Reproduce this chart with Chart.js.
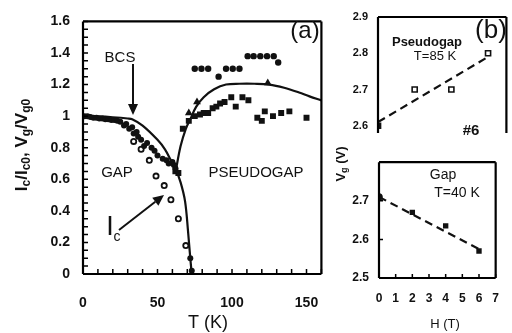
<!DOCTYPE html>
<html>
<head>
<meta charset="utf-8">
<script src="https://cdn.jsdelivr.net/npm/chart.js@4"></script>
<style>
  body { margin: 0; background: #fff; }
  #wrap { position: relative; width: 512px; height: 333px; overflow: hidden; }
  canvas { position: absolute; }
</style>
</head>
<body>
<div id="wrap">
  <canvas id="mainChart" width="340" height="333" style="left:0;top:0"></canvas>
  <canvas id="topChart" width="177" height="150" style="left:335px;top:0"></canvas>
  <canvas id="botChart" width="177" height="188" style="left:335px;top:145px"></canvas>
</div>
<script>
// ---- data ----
// panel (a): T (K) vs normalised Ic, Vg
const bcsT = [0, 10, 20, 30, 33, 40, 50, 55, 59, 62, 65.5, 68.5, 70.5, 72, 73];
const bcsV = [1.0, 0.998, 0.993, 0.985, 0.98, 0.94, 0.85, 0.79, 0.72, 0.67, 0.58, 0.46, 0.27, 0.1, 0];
const pgCurveT = [62, 65.5, 69, 72, 76, 81, 88, 96, 105, 115, 125, 135, 145, 152, 160];
const pgCurveV = [0.64, 0.81, 0.92, 0.98, 1.06, 1.12, 1.17, 1.2, 1.205, 1.205, 1.2, 1.18, 1.15, 1.125, 1.1];
const gapDotsT = [1, 3, 5, 7, 9, 11, 13, 15, 17, 19, 21, 23, 25, 27.5, 29, 31, 33, 34, 36, 37, 39, 41, 43, 46, 48, 50, 53.5, 56, 57.5, 60, 61, 62, 72, 73];
const gapDotsV = [1.0, 1.0, 0.995, 0.99, 0.99, 0.985, 0.985, 0.98, 0.98, 0.975, 0.975, 0.97, 0.965, 0.94, 0.95, 0.92, 0.93, 0.89, 0.9, 0.87, 0.85, 0.81, 0.83, 0.8, 0.78, 0.75, 0.73, 0.72, 0.7, 0.71, 0.69, 0.67, 0.1, 0.02];
const icT = [34, 39, 44.5, 49, 54.5, 59, 64, 69];
const icV = [0.84, 0.79, 0.72, 0.62, 0.56, 0.47, 0.35, 0.18];
const sqT = [62, 64, 67, 71, 75, 78.5, 81, 84, 87, 89.5, 92, 95, 99.5, 102.5, 107, 111, 117, 120, 122, 127.5, 133, 138.5, 150];
const sqV = [0.65, 0.64, 0.92, 0.97, 1.0, 1.01, 1.02, 1.02, 1.05, 1.06, 1.08, 1.09, 1.12, 1.06, 1.12, 1.1, 0.99, 0.97, 1.03, 1.0, 1.02, 1.03, 0.99];
const hiDotsT = [75, 79.5, 84, 91, 96, 100.5, 105, 110.5, 114.5, 119, 123.5, 128, 131];
const hiDotsV = [1.3, 1.3, 1.3, 1.25, 1.3, 1.3, 1.3, 1.38, 1.38, 1.38, 1.38, 1.38, 1.34];
const triT = [71, 76.5, 124];
const triV = [1.02, 1.09, 1.21];

// panel (b): H (T) vs Vg (V)
const fieldH = [0, 2, 4, 6];
const vgPseudo = [2.6, 2.7, 2.7, 2.8];
const vgGap = [2.71, 2.67, 2.635, 2.57];
const fitH = [0, 6];
const fitPseudo = [2.61, 2.79];
const fitGap = [2.71, 2.575];

// tick labels
const tTicks = [0, 50, 100, 150];
const ratioTicks = [0, 0.2, 0.4, 0.6, 0.8, 1, 1.2, 1.4, 1.6];
const hTicks = [0, 1, 2, 3, 4, 5, 6, 7];
const vgTopTicks = [2.6, 2.7, 2.8, 2.9];
const vgBotTicks = [2.5, 2.6, 2.7];

const zip = (xs, ys) => xs.map((x, i) => ({ x: x, y: ys[i] }));
const ink = '#111';
const FONT = "'Liberation Sans', Arial, sans-serif";

Chart.defaults.font.family = FONT;
Chart.defaults.color = ink;
Chart.defaults.animation = false;

// text with subscripts: parts = [[text, isSub], ...]
function subText(ctx, parts, x, y, size, rot) {
  ctx.save();
  ctx.translate(x, y);
  if (rot) ctx.rotate(rot);
  ctx.fillStyle = ink;
  ctx.textBaseline = 'middle';
  let total = 0;
  parts.forEach(p => {
    ctx.font = 'bold ' + (p[1] ? Math.round(size * 0.68) : size) + 'px ' + FONT;
    total += ctx.measureText(p[0]).width;
  });
  let cx = -total / 2;
  parts.forEach(p => {
    const s = p[1] ? Math.round(size * 0.68) : size;
    ctx.font = 'bold ' + s + 'px ' + FONT;
    ctx.textAlign = 'left';
    ctx.fillText(p[0], cx, p[1] ? size * 0.3 : 0);
    cx += ctx.measureText(p[0]).width;
  });
  ctx.restore();
}

function label(ctx, txt, x, y, font) {
  ctx.save();
  ctx.font = font;
  ctx.fillStyle = ink;
  ctx.textAlign = 'center';
  ctx.textBaseline = 'middle';
  ctx.fillText(txt, x, y);
  ctx.restore();
}

function arrow(ctx, x1, y1, x2, y2) {
  const a = Math.atan2(y2 - y1, x2 - x1);
  const L = 11, W = 5;
  ctx.save();
  ctx.strokeStyle = ink; ctx.fillStyle = ink; ctx.lineWidth = 2;
  ctx.beginPath();
  ctx.moveTo(x1, y1);
  ctx.lineTo(x2 - L * Math.cos(a), y2 - L * Math.sin(a));
  ctx.stroke();
  ctx.beginPath();
  ctx.moveTo(x2, y2);
  ctx.lineTo(x2 - L * Math.cos(a) + W * Math.sin(a), y2 - L * Math.sin(a) - W * Math.cos(a));
  ctx.lineTo(x2 - L * Math.cos(a) - W * Math.sin(a), y2 - L * Math.sin(a) + W * Math.cos(a));
  ctx.closePath();
  ctx.fill();
  ctx.restore();
}

// frame + inside ticks
function frame(sides, xStep, yStep, xLen, yLen) {
  return {
    id: 'frame',
    afterDraw(chart) {
      const ctx = chart.ctx;
      const a = chart.chartArea;
      const xs = chart.scales.x, ys = chart.scales.y;
      ctx.save();
      ctx.strokeStyle = '#000';
      ctx.lineWidth = 1.5;
      ctx.beginPath();
      if (xStep) {
        const n = Math.round((xs.max - xs.min) / xStep);
        for (let i = 0; i <= n; i++) {
          const px = xs.getPixelForValue(xs.min + i * xStep);
          ctx.moveTo(px, a.bottom);
          ctx.lineTo(px, a.bottom - xLen);
        }
      }
      if (yStep) {
        const i0 = Math.ceil(ys.min / yStep - 1e-6);
        const i1 = Math.floor(ys.max / yStep + 1e-6);
        for (let i = i0; i <= i1; i++) {
          const py = ys.getPixelForValue(i * yStep);
          ctx.moveTo(a.left, py);
          ctx.lineTo(a.left + yLen, py);
        }
      }
      ctx.stroke();
      ctx.lineWidth = 2.2;
      ctx.beginPath();
      if (sides.includes('l')) { ctx.moveTo(a.left, a.bottom); ctx.lineTo(a.left, a.top); }
      if (sides.includes('t')) { ctx.moveTo(a.left, a.top); ctx.lineTo(a.right, a.top); }
      if (sides.includes('r')) { ctx.moveTo(a.right, a.top); ctx.lineTo(a.right, a.bottom); }
      if (sides.includes('b')) { ctx.moveTo(a.left, a.bottom); ctx.lineTo(a.right, a.bottom); }
      ctx.stroke();
      ctx.restore();
    }
  };
}

const fixTicks = arr => scale => { scale.ticks = arr.map(v => ({ value: v })); };

// ---- panel (a) ----
new Chart(document.getElementById('mainChart'), {
  type: 'scatter',
  data: {
    datasets: [
      { data: zip(bcsT, bcsV), showLine: true, borderColor: ink, borderWidth: 2.2, pointRadius: 0, tension: 0.35 },
      { data: zip(pgCurveT, pgCurveV), showLine: true, borderColor: ink, borderWidth: 2.2, pointRadius: 0, tension: 0.35 },
      { data: zip(gapDotsT, gapDotsV), pointStyle: 'circle', pointRadius: 3, backgroundColor: ink, borderColor: ink, borderWidth: 0 },
      { data: zip(icT, icV), pointStyle: 'circle', pointRadius: 2.6, backgroundColor: '#fff', borderColor: ink, borderWidth: 1.8 },
      { data: zip(sqT, sqV), pointStyle: 'rect', pointRadius: 4.2, backgroundColor: ink, borderColor: ink, borderWidth: 0 },
      { data: zip(hiDotsT, hiDotsV), pointStyle: 'circle', pointRadius: 3.2, backgroundColor: ink, borderColor: ink, borderWidth: 0 },
      { data: zip(triT, triV), pointStyle: 'triangle', pointRadius: 4.5, backgroundColor: ink, borderColor: ink, borderWidth: 0 }
    ]
  },
  options: {
    responsive: false,
    layout: { padding: { left: 0, top: 15, right: 13, bottom: 0 } },
    plugins: { legend: { display: false }, tooltip: { enabled: false } },
    scales: {
      x: {
        type: 'linear', min: 0, max: 160,
        afterBuildTicks: fixTicks(tTicks),
        afterFit: s => { s.height = 59; },
        grid: { display: false, drawTicks: false },
        border: { display: false },
        ticks: { padding: 21, font: { size: 14, weight: 'bold' }, color: ink }
      },
      y: {
        min: 0, max: 1.6,
        afterBuildTicks: fixTicks(ratioTicks),
        afterFit: s => { s.width = 83; },
        grid: { display: false, drawTicks: false },
        border: { display: false },
        ticks: { padding: 13, font: { size: 14, weight: 'bold' }, color: ink, callback: v => String(v) }
      }
    }
  },
  plugins: [frame('ltrb', 10, 0.05, 5, 5), {
    id: 'notes',
    afterDraw(chart) {
      const ctx = chart.ctx;
      subText(ctx, [['I', 0], ['c', 1], ['/I', 0], ['c0', 1], [', V', 0], ['g', 1], ['/V', 0], ['g0', 1]], 22, 145, 17, -Math.PI / 2);
      label(ctx, 'T (K)', 208, 323, '18px ' + FONT);
      label(ctx, 'BCS', 120, 58, '15px ' + FONT);
      arrow(ctx, 133, 64, 133, 115);
      label(ctx, 'GAP', 117, 173, '15px ' + FONT);
      label(ctx, 'PSEUDOGAP', 256, 173, '15px ' + FONT);
      label(ctx, '(a)', 305, 31, '24px ' + FONT);
      label(ctx, 'I', 110, 228, '27px ' + FONT);
      label(ctx, 'c', 117, 237, '14px ' + FONT);
      arrow(ctx, 119, 230, 164, 195);
    }
  }]
});

// ---- panel (b), upper: pseudogap ----
new Chart(document.getElementById('topChart'), {
  type: 'scatter',
  data: {
    datasets: [
      { data: zip(fitH, fitPseudo), showLine: true, borderColor: ink, borderWidth: 2.2, borderDash: [8, 5], pointRadius: 0 },
      { data: zip(fieldH, vgPseudo), pointStyle: 'rect', pointRadius: 3.6,
        backgroundColor: [ink, '#fff', '#fff', '#fff'], borderColor: ink, borderWidth: 1.6 }
    ]
  },
  options: {
    responsive: false,
    layout: { padding: { left: 0, top: 17, right: 5, bottom: 17 } },
    plugins: { legend: { display: false }, tooltip: { enabled: false } },
    scales: {
      x: { type: 'linear', min: 0, max: 7, display: false },
      y: {
        min: 2.58, max: 2.9,
        afterBuildTicks: fixTicks(vgTopTicks),
        afterFit: s => { s.width = 43; },
        grid: { display: false, drawTicks: false },
        border: { display: false },
        ticks: { padding: 10, font: { size: 11, weight: 'bold' }, color: ink, callback: v => v.toFixed(1) }
      }
    }
  },
  plugins: [frame('ltr', 0, 0, 0, 0), {
    id: 'notesTop',
    afterDraw(chart) {
      const ctx = chart.ctx;
      label(ctx, 'Pseudogap', 92, 42, 'bold 13px ' + FONT);
      label(ctx, 'T=85 K', 100, 56, '13px ' + FONT);
      label(ctx, '(b)', 156, 31, '26px ' + FONT);
      label(ctx, '#6', 136, 131, 'bold 15px ' + FONT);
    }
  }]
});

// ---- panel (b), lower: gap ----
new Chart(document.getElementById('botChart'), {
  type: 'scatter',
  data: {
    datasets: [
      { data: zip(fitH, fitGap), showLine: true, borderColor: ink, borderWidth: 2.2, borderDash: [8, 5], pointRadius: 0 },
      { data: zip(fieldH, vgGap), pointStyle: ['circle', 'rect', 'rect', 'rect'], pointRadius: 3.8,
        backgroundColor: ink, borderColor: ink, borderWidth: 0 }
    ]
  },
  options: {
    responsive: false,
    layout: { padding: { left: 0, top: 9, right: 5, bottom: 0 } },
    plugins: { legend: { display: false }, tooltip: { enabled: false } },
    scales: {
      x: {
        type: 'linear', min: 0, max: 7,
        afterBuildTicks: fixTicks(hTicks),
        afterFit: s => { s.height = 55; },
        grid: { display: false, drawTicks: false },
        border: { display: false },
        ticks: { padding: 13, font: { size: 12, weight: 'bold' }, color: ink }
      },
      y: {
        min: 2.5, max: 2.8,
        afterBuildTicks: fixTicks(vgBotTicks),
        afterFit: s => { s.width = 44; },
        grid: { display: false, drawTicks: false },
        border: { display: false },
        ticks: { padding: 10, font: { size: 12, weight: 'bold' }, color: ink, callback: v => v.toFixed(1) }
      }
    }
  },
  plugins: [frame('ltrb', 1, 0.1, 4, 4), {
    id: 'notesBot',
    afterDraw(chart) {
      const ctx = chart.ctx;
      label(ctx, 'Gap', 108, 30, '14px ' + FONT);
      label(ctx, 'T=40 K', 122, 48, '14px ' + FONT);
      label(ctx, 'H (T)', 110, 179, '13px ' + FONT);
      subText(ctx, [['V', 0], ['g', 1], [' (V)', 0]], 6, 19, 13, -Math.PI / 2);
    }
  }]
});
</script>
</body>
</html>
